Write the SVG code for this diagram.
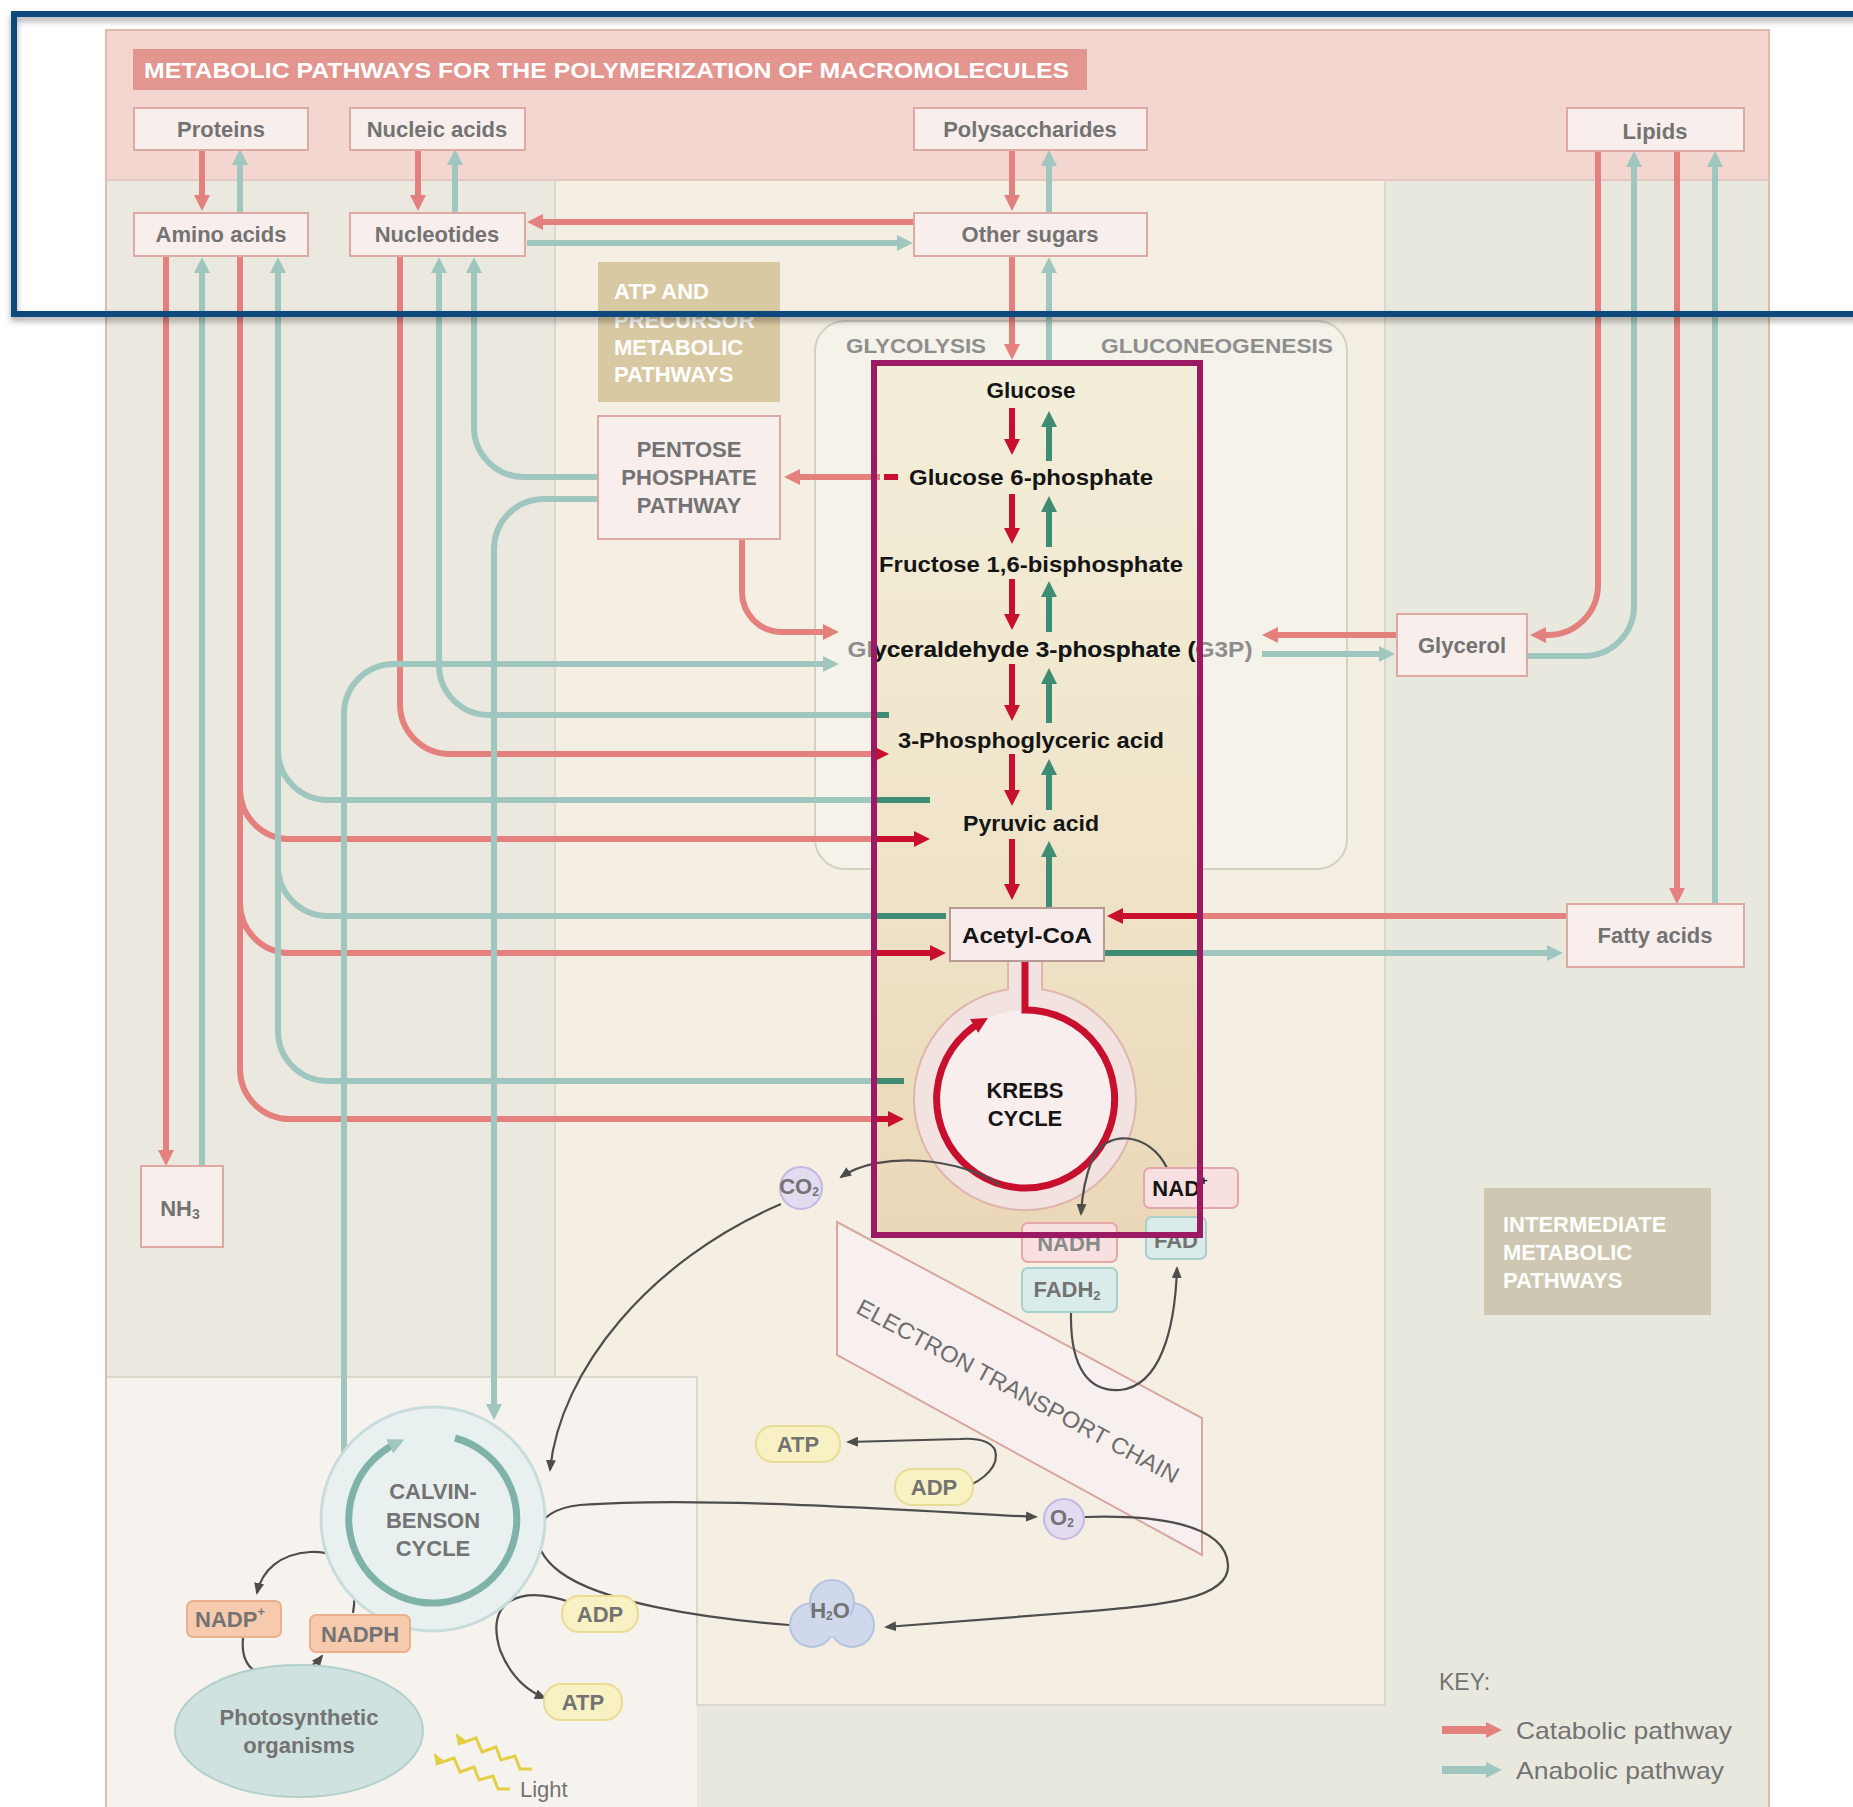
<svg xmlns="http://www.w3.org/2000/svg" width="1853" height="1807" viewBox="0 0 1853 1807">
<defs>
<style>
text { font-family: "Liberation Sans", Arial, sans-serif; }
.node { fill:#f8eeec; stroke:#dcaaa3; stroke-width:2; }
.lbl { font-size:22px; font-weight:bold; fill:#737373; text-anchor:middle; dominant-baseline:central; }
.blk { font-size:22px; font-weight:bold; fill:#151515; text-anchor:middle; dominant-baseline:central; }
.hdr { font-size:20px; font-weight:bold; fill:#8e8e8e; text-anchor:middle; dominant-baseline:central; }
.wht { font-size:22px; font-weight:bold; fill:#ffffff; }
.cat { fill:none; stroke:#e4807d; stroke-width:6; }
.ana { fill:none; stroke:#a0c6c0; stroke-width:6; }
.catd { fill:none; stroke:#c8102e; stroke-width:6; }
.anad { fill:none; stroke:#3f8c74; stroke-width:6; }
.thin { fill:none; stroke:#4d4d4d; stroke-width:2.2; }
.blob { fill:#f8f1c4; stroke:#e9dc96; stroke-width:2; }
.pinkb { fill:#f9e0e0; stroke:#e6a7ab; stroke-width:2; }
.tealb { fill:#d9ecea; stroke:#a9d0cb; stroke-width:2; }
.orb { fill:#f6caad; stroke:#eab08e; stroke-width:2; }
.lav { fill:#e3dcf0; stroke:#c3b6e0; stroke-width:2; }
</style>
<marker id="mR" markerUnits="userSpaceOnUse" markerWidth="16" markerHeight="16" refX="8" refY="8" orient="auto" viewBox="0 0 16 16"><path d="M0,0 L16,8 L0,16 z" fill="#e4807d"/></marker>
<marker id="mT" markerUnits="userSpaceOnUse" markerWidth="16" markerHeight="16" refX="8" refY="8" orient="auto" viewBox="0 0 16 16"><path d="M0,0 L16,8 L0,16 z" fill="#a0c6c0"/></marker>
<marker id="mRD" markerUnits="userSpaceOnUse" markerWidth="16" markerHeight="16" refX="8" refY="8" orient="auto" viewBox="0 0 16 16"><path d="M0,0 L16,8 L0,16 z" fill="#c8102e"/></marker>
<marker id="mTD" markerUnits="userSpaceOnUse" markerWidth="16" markerHeight="16" refX="8" refY="8" orient="auto" viewBox="0 0 16 16"><path d="M0,0 L16,8 L0,16 z" fill="#3f8c74"/></marker>
<marker id="mG" markerUnits="userSpaceOnUse" markerWidth="12" markerHeight="10" refX="10" refY="5" orient="auto" viewBox="0 0 12 10"><path d="M0,0 L12,5 L0,10 z" fill="#4d4d4d"/></marker>
<marker id="mY" markerUnits="userSpaceOnUse" markerWidth="12" markerHeight="10" refX="10" refY="5" orient="auto" viewBox="0 0 12 10"><path d="M0,0 L12,5 L0,10 z" fill="#e3cf45"/></marker>
<linearGradient id="magFill" x1="0" y1="0" x2="0" y2="1">
<stop offset="0" stop-color="#f3eed9"/>
<stop offset="0.55" stop-color="#efe3c6"/>
<stop offset="1" stop-color="#e9d5b3"/>
</linearGradient>
<clipPath id="clipM"><rect x="874" y="363" width="326" height="872"/></clipPath>
<filter id="shadow" x="-5%" y="-20%" width="110%" height="140%"><feDropShadow dx="0" dy="4" stdDeviation="3" flood-color="#000" flood-opacity="0.35"/></filter>
</defs>

<rect x="0" y="0" width="1853" height="1807" fill="#ffffff"/>

<g id="background">
<rect x="106" y="30" width="1663" height="1790" fill="#f2d6cf" stroke="#e2b8b0" stroke-width="2"/>
<rect x="107" y="180" width="448" height="1197" fill="#ebe8df"/>
<rect x="555" y="180" width="830" height="1525" fill="#f5efe3"/>
<rect x="1385" y="180" width="383" height="1627" fill="#e9e8de"/>
<rect x="697" y="1705" width="688" height="102" fill="#e9e8de"/>
<rect x="107" y="1377" width="590" height="430" fill="#f6f3ee"/>
<line x1="555" y1="180" x2="555" y2="1377" stroke="#dcd8cc" stroke-width="2"/>
<line x1="1385" y1="180" x2="1385" y2="1705" stroke="#dcd8cc" stroke-width="2"/>
<path d="M107,1377 H697 V1705 H1385" fill="none" stroke="#ddd6cb" stroke-width="2"/>
<line x1="107" y1="180" x2="1768" y2="180" stroke="#e3c8c0" stroke-width="2"/>
</g>

<g id="title">
<rect x="133" y="49" width="954" height="41" fill="#e3958f"/>
<text class="wht" x="144" y="78" textLength="925" lengthAdjust="spacingAndGlyphs">METABOLIC PATHWAYS FOR THE POLYMERIZATION OF MACROMOLECULES</text>
</g>

<g id="atp-precursor-label">
<rect x="598" y="262" width="182" height="140" fill="#d9c9a3"/>
<text class="wht" x="614" y="299">ATP AND</text>
<text class="wht" x="614" y="328">PRECURSOR</text>
<text class="wht" x="614" y="355">METABOLIC</text>
<text class="wht" x="614" y="382">PATHWAYS</text>
</g>

<g id="glycolysis-box">
<rect x="815" y="321" width="532" height="548" rx="30" fill="#f4f2e9" stroke="#cfd3bf" stroke-width="2"/>
<text class="hdr" x="916" y="346" textLength="140" lengthAdjust="spacingAndGlyphs">GLYCOLYSIS</text>
<text class="hdr" x="1217" y="346" textLength="232" lengthAdjust="spacingAndGlyphs">GLUCONEOGENESIS</text>
</g>

<g id="intermediate-label">
<rect x="1484" y="1188" width="227" height="127" fill="#cec7b1"/>
<text class="wht" x="1503" y="1232">INTERMEDIATE</text>
<text class="wht" x="1503" y="1260">METABOLIC</text>
<text class="wht" x="1503" y="1288">PATHWAYS</text>
</g>

<rect id="highlight-fill" x="874" y="363" width="326" height="872" fill="url(#magFill)" opacity="0.9"/>

<g id="etc">
<polygon points="837,1222 1202,1418 1202,1555 837,1355" fill="#f7f0ef" stroke="#d7a6a2" stroke-width="2"/>
<text transform="translate(1018,1391) rotate(28.3)" text-anchor="middle" dominant-baseline="central" font-size="23" fill="#6d6d6d" textLength="362" lengthAdjust="spacingAndGlyphs">ELECTRON TRANSPORT CHAIN</text>
</g>

<g id="connectors">
<!-- catabolic -->
<path class="cat" d="M202,149 V203" marker-end="url(#mR)"/>
<path class="cat" d="M418,149 V203" marker-end="url(#mR)"/>
<path class="cat" d="M1012,149 V203" marker-end="url(#mR)"/>
<path class="cat" d="M913,222 H535" marker-end="url(#mR)"/>
<path class="cat" d="M1012,257 V352" marker-end="url(#mR)"/>
<path class="cat" d="M880,477 H792" marker-end="url(#mR)"/>
<path class="catd" d="M884,477 H898"/>
<path class="cat" d="M742,539 V592 A40,40 0 0 0 782,632 H831" marker-end="url(#mR)"/>
<path class="cat" d="M400,257 V704 A50,50 0 0 0 450,754 H881" marker-end="url(#mRD)"/>
<path class="cat" d="M240,257 V789 A50,50 0 0 0 290,839 H876"/>
<path class="catd" d="M872,839 H922" marker-end="url(#mRD)"/>
<path class="cat" d="M240,257 V903 A50,50 0 0 0 290,953 H876"/>
<path class="catd" d="M872,953 H938" marker-end="url(#mRD)"/>
<path class="cat" d="M240,257 V1069 A50,50 0 0 0 290,1119 H876"/>
<path class="catd" d="M872,1119 H896" marker-end="url(#mRD)"/>
<path class="cat" d="M166,257 V1158" marker-end="url(#mR)"/>
<path class="cat" d="M1598,151 V585 A50,50 0 0 1 1548,635 H1538" marker-end="url(#mR)"/>
<path class="cat" d="M1397,635 H1270" marker-end="url(#mR)"/>
<path class="cat" d="M1677,151 V896" marker-end="url(#mR)"/>
<path class="cat" d="M1567,916 H1198"/>
<path class="catd" d="M1202,916 H1115" marker-end="url(#mRD)"/>
<!-- anabolic -->
<path class="ana" d="M240,212 V157" marker-end="url(#mT)"/>
<path class="ana" d="M455,212 V157" marker-end="url(#mT)"/>
<path class="ana" d="M1049,212 V158" marker-end="url(#mT)"/>
<path class="ana" d="M527,243 H905" marker-end="url(#mT)"/>
<path class="ana" d="M1049,365 V265" marker-end="url(#mT)"/>
<path class="anad" d="M889,715 H872"/>
<path class="ana" d="M876,715 H489 A50,50 0 0 1 439,665 V265" marker-end="url(#mT)"/>
<path class="ana" d="M598,477 H524 A50,50 0 0 1 474,427 V265" marker-end="url(#mT)"/>
<path class="ana" d="M598,499 H544 A50,50 0 0 0 494,549 V1412" marker-end="url(#mT)"/>
<path class="ana" d="M344,1482 V714 A50,50 0 0 1 394,664 H831" marker-end="url(#mT)"/>
<path class="anad" d="M930,800 H872"/>
<path class="ana" d="M876,800 H328 A50,50 0 0 1 278,750 V265" marker-end="url(#mT)"/>
<path class="anad" d="M946,916 H872"/>
<path class="ana" d="M876,916 H328 A50,50 0 0 1 278,866 V265"/>
<path class="anad" d="M904,1081 H872"/>
<path class="ana" d="M876,1081 H328 A50,50 0 0 1 278,1031 V265"/>
<path class="ana" d="M202,1166 V265" marker-end="url(#mT)"/>
<path class="ana" d="M1527,656 H1584 A50,50 0 0 0 1634,606 V159" marker-end="url(#mT)"/>
<path class="ana" d="M1262,654 H1387" marker-end="url(#mT)"/>
<path class="ana" d="M1715,904 V159" marker-end="url(#mT)"/>
<path class="anad" d="M1104,953 H1202"/>
<path class="ana" d="M1198,953 H1555" marker-end="url(#mT)"/>
<!-- glycolysis / gluconeogenesis -->
<path class="catd" d="M1012,408 V447" marker-end="url(#mRD)"/>
<path class="anad" d="M1049,461 V419" marker-end="url(#mTD)"/>
<path class="catd" d="M1012,494 V536" marker-end="url(#mRD)"/>
<path class="anad" d="M1049,547 V504" marker-end="url(#mTD)"/>
<path class="catd" d="M1012,579 V622" marker-end="url(#mRD)"/>
<path class="anad" d="M1049,632 V589" marker-end="url(#mTD)"/>
<path class="catd" d="M1012,664 V713" marker-end="url(#mRD)"/>
<path class="anad" d="M1049,723 V676" marker-end="url(#mTD)"/>
<path class="catd" d="M1012,754 V798" marker-end="url(#mRD)"/>
<path class="anad" d="M1049,810 V767" marker-end="url(#mTD)"/>
<path class="catd" d="M1012,839 V892" marker-end="url(#mRD)"/>
<path class="anad" d="M1049,908 V849" marker-end="url(#mTD)"/>
</g>

<g id="krebs-cycle">
<circle cx="1025" cy="1099" r="111" fill="#f3e3e0" stroke="#dfb5ae" stroke-width="2"/>
<rect x="1008" y="955" width="34" height="42" fill="#f3e3e0"/>
<line x1="1008" y1="961" x2="1008" y2="990" stroke="#dfb5ae" stroke-width="2"/>
<line x1="1042" y1="961" x2="1042" y2="990" stroke="#dfb5ae" stroke-width="2"/>
<circle cx="1025" cy="1099" r="89" fill="#f9eeee"/>
<path d="M1025,961 V1010 A89,89 0 1 1 981,1022" fill="none" stroke="#c8102e" stroke-width="7" marker-end="url(#mRD)"/>
<text class="blk" x="1025" y="1090">KREBS</text>
<text class="blk" x="1025" y="1118">CYCLE</text>
</g>

<g id="node-proteins"><rect class="node" x="134" y="108" width="174" height="42"/><text class="lbl" x="221" y="129">Proteins</text></g>
<g id="node-nucleic-acids"><rect class="node" x="350" y="108" width="175" height="42"/><text class="lbl" x="437" y="129">Nucleic acids</text></g>
<g id="node-polysaccharides"><rect class="node" x="914" y="108" width="233" height="42"/><text class="lbl" x="1030" y="129">Polysaccharides</text></g>
<g id="node-lipids"><rect class="node" x="1567" y="108" width="177" height="43"/><text class="lbl" x="1655" y="131">Lipids</text></g>
<g id="node-amino-acids"><rect class="node" x="134" y="213" width="174" height="43"/><text class="lbl" x="221" y="234">Amino acids</text></g>
<g id="node-nucleotides"><rect class="node" x="350" y="213" width="175" height="43"/><text class="lbl" x="437" y="234">Nucleotides</text></g>
<g id="node-other-sugars"><rect class="node" x="914" y="213" width="233" height="43"/><text class="lbl" x="1030" y="234">Other sugars</text></g>
<g id="node-pentose"><rect class="node" x="598" y="416" width="182" height="123"/>
<text class="lbl" x="689" y="449" font-size="21">PENTOSE</text>
<text class="lbl" x="689" y="477" font-size="21">PHOSPHATE</text>
<text class="lbl" x="689" y="505" font-size="21">PATHWAY</text></g>
<g id="node-glycerol"><rect class="node" x="1397" y="614" width="130" height="62"/><text class="lbl" x="1462" y="645">Glycerol</text></g>
<g id="node-fatty-acids"><rect class="node" x="1567" y="904" width="177" height="63"/><text class="lbl" x="1655" y="935">Fatty acids</text></g>
<g id="node-nh3"><rect class="node" x="141" y="1166" width="82" height="81"/><text class="lbl" x="180" y="1208">NH<tspan font-size="14" dy="6">3</tspan></text></g>

<g id="node-glucose"><text class="blk" x="1031" y="390" textLength="89" lengthAdjust="spacingAndGlyphs">Glucose</text></g>
<g id="node-g6p"><text class="blk" x="1031" y="477" textLength="244" lengthAdjust="spacingAndGlyphs">Glucose 6-phosphate</text></g>
<g id="node-f16bp"><text class="blk" x="1031" y="564" textLength="304" lengthAdjust="spacingAndGlyphs">Fructose 1,6-bisphosphate</text></g>
<g id="node-g3p">
<text class="blk" x="1050" y="649" fill="#8d8d8d" style="fill:#8d8d8d" textLength="405" lengthAdjust="spacingAndGlyphs">Glyceraldehyde 3-phosphate (G3P)</text>
<text class="blk" x="1050" y="649" clip-path="url(#clipM)" textLength="405" lengthAdjust="spacingAndGlyphs">Glyceraldehyde 3-phosphate (G3P)</text>
</g>
<g id="node-3pga"><text class="blk" x="1031" y="740" textLength="266" lengthAdjust="spacingAndGlyphs">3-Phosphoglyceric acid</text></g>
<g id="node-pyruvic"><text class="blk" x="1031" y="823" textLength="136" lengthAdjust="spacingAndGlyphs">Pyruvic acid</text></g>
<g id="node-acetyl-coa"><rect x="950" y="908" width="154" height="53" fill="#f7eceb" stroke="#b89a95" stroke-width="2"/><text class="blk" x="1027" y="935" textLength="130" lengthAdjust="spacingAndGlyphs">Acetyl-CoA</text></g>

<g id="cofactor-arrows">
<path class="thin" d="M1000,1185 C960,1158 880,1150 841,1177" marker-end="url(#mG)"/>
<path class="thin" d="M1167,1168 C1150,1132 1105,1128 1092,1160 C1085,1178 1082,1195 1081,1214" marker-end="url(#mG)"/>
<path class="thin" d="M1071,1313 C1070,1370 1090,1392 1120,1390 C1160,1386 1175,1330 1177,1268" marker-end="url(#mG)"/>
<path class="thin" d="M963,1488 C985,1480 1000,1465 995,1450 C990,1440 975,1438 960,1439 L848,1442" marker-end="url(#mG)"/>
<path class="thin" d="M789,1625 C700,1618 600,1602 560,1572 C525,1546 530,1510 580,1505 C700,1496 900,1510 1036,1517" marker-end="url(#mG)"/>
<path class="thin" d="M1085,1517 C1150,1515 1226,1522 1228,1565 C1230,1600 1160,1605 1080,1612 L886,1627" marker-end="url(#mG)"/>
<path class="thin" d="M781,1204 C650,1260 560,1370 550,1470" marker-end="url(#mG)"/>
<path class="thin" d="M570,1602 C520,1585 485,1600 500,1650 C510,1675 525,1690 545,1698" marker-end="url(#mG)"/>
<path class="thin" d="M353,1613 C360,1570 340,1550 310,1552 C280,1554 262,1570 257,1593" marker-end="url(#mG)"/>
<path class="thin" d="M243,1638 C240,1670 260,1680 290,1675 C305,1672 315,1665 322,1656" marker-end="url(#mG)"/>
</g>

<g id="node-co2"><circle class="lav" cx="801" cy="1188" r="21"/><text class="lbl" x="799" y="1186" font-size="19">CO<tspan font-size="12" dy="6">2</tspan></text></g>
<g id="node-nad"><rect class="pinkb" x="1144" y="1168" width="94" height="40" rx="6"/><text class="blk" x="1180" y="1188" font-size="21">NAD<tspan font-size="13" dy="-8">+</tspan></text></g>
<g id="node-fad"><rect class="tealb" x="1146" y="1217" width="60" height="42" rx="6"/><text class="lbl" x="1176" y="1240" font-size="20">FAD</text></g>
<g id="node-nadh"><rect class="pinkb" x="1022" y="1223" width="95" height="39" rx="6"/><text class="lbl" x="1069" y="1243" font-size="21" style="fill:#8a8a8a">NADH</text></g>
<g id="node-fadh2"><rect class="tealb" x="1022" y="1268" width="95" height="44" rx="6"/><text class="lbl" x="1067" y="1289" font-size="21">FADH<tspan font-size="13" dy="6">2</tspan></text></g>
<g id="node-atp-etc"><rect class="blob" x="756" y="1426" width="84" height="36" rx="17"/><text class="lbl" x="798" y="1444" font-size="21">ATP</text></g>
<g id="node-adp-etc"><rect class="blob" x="895" y="1469" width="78" height="36" rx="17"/><text class="lbl" x="934" y="1487" font-size="21">ADP</text></g>
<g id="node-o2"><circle class="lav" cx="1064" cy="1519" r="20"/><text class="lbl" x="1062" y="1517" font-size="19">O<tspan font-size="12" dy="6">2</tspan></text></g>
<g id="node-h2o">
<circle cx="812" cy="1625" r="22" fill="#d0d9ec" stroke="#b6c3dd" stroke-width="2"/>
<circle cx="852" cy="1625" r="22" fill="#d0d9ec" stroke="#b6c3dd" stroke-width="2"/>
<circle cx="832" cy="1602" r="22" fill="#d0d9ec" stroke="#b6c3dd" stroke-width="2"/>
<circle cx="832" cy="1618" r="18" fill="#d0d9ec"/>
<text class="lbl" x="830" y="1610" font-size="20">H<tspan font-size="12" dy="6">2</tspan><tspan dy="-6">O</tspan></text>
</g>

<g id="calvin-cycle">
<circle cx="433" cy="1519" r="112" fill="#e9f0f0" stroke="#c9dcdc" stroke-width="3"/>
<path d="M455,1438 A84,84 0 1 1 397,1443" fill="none" stroke="#7fb3aa" stroke-width="7" marker-end="url(#mT)"/>
<text class="lbl" x="433" y="1491" font-size="21">CALVIN-</text>
<text class="lbl" x="433" y="1520" font-size="21">BENSON</text>
<text class="lbl" x="433" y="1548" font-size="21">CYCLE</text>
</g>

<g id="node-nadp"><rect class="orb" x="187" y="1601" width="94" height="36" rx="6"/><text class="lbl" x="230" y="1619" font-size="21">NADP<tspan font-size="13" dy="-8">+</tspan></text></g>
<g id="node-nadph"><rect class="orb" x="310" y="1615" width="100" height="37" rx="6"/><text class="lbl" x="360" y="1634" font-size="21">NADPH</text></g>
<g id="node-photosynthetic"><ellipse cx="299" cy="1731" rx="124" ry="66" fill="#cfe2df" stroke="#b3d0cc" stroke-width="2"/>
<text class="lbl" x="299" y="1717" font-size="21">Photosynthetic</text>
<text class="lbl" x="299" y="1745" font-size="21">organisms</text></g>
<g id="node-adp-calvin"><rect class="blob" x="562" y="1596" width="76" height="36" rx="17"/><text class="lbl" x="600" y="1614" font-size="21">ADP</text></g>
<g id="node-atp-calvin"><rect class="blob" x="544" y="1684" width="78" height="36" rx="17"/><text class="lbl" x="583" y="1702" font-size="21">ATP</text></g>
<g id="node-light">
<polyline points="532,1769 520,1769 515,1756 501,1760 496,1747 482,1752 476,1738 462,1743 457,1735" fill="none" stroke="#e3cf45" stroke-width="3" marker-end="url(#mY)"/>
<polyline points="510,1789 498,1789 493,1776 479,1780 474,1767 460,1772 454,1758 440,1763 435,1755" fill="none" stroke="#e3cf45" stroke-width="3" marker-end="url(#mY)"/>
<text x="520" y="1797" font-size="22" fill="#737373">Light</text>
</g>

<g id="key">
<text x="1439" y="1690" font-size="23" fill="#737373">KEY:</text>
<path d="M1442,1730 H1494" stroke="#e4807d" stroke-width="8" fill="none" marker-end="url(#mR)"/>
<text x="1516" y="1739" font-size="24" fill="#737373" textLength="216" lengthAdjust="spacingAndGlyphs">Catabolic pathway</text>
<path d="M1442,1770 H1494" stroke="#a0c6c0" stroke-width="8" fill="none" marker-end="url(#mT)"/>
<text x="1516" y="1779" font-size="24" fill="#737373" textLength="208" lengthAdjust="spacingAndGlyphs">Anabolic pathway</text>
</g>

<g id="highlight-frames">
<rect x="874" y="363" width="326" height="872" fill="none" stroke="#9c1a63" stroke-width="6"/>
<rect x="14" y="14" width="1860" height="300" fill="none" stroke="#0c4a7d" stroke-width="6" filter="url(#shadow)"/>
</g>
</svg>
